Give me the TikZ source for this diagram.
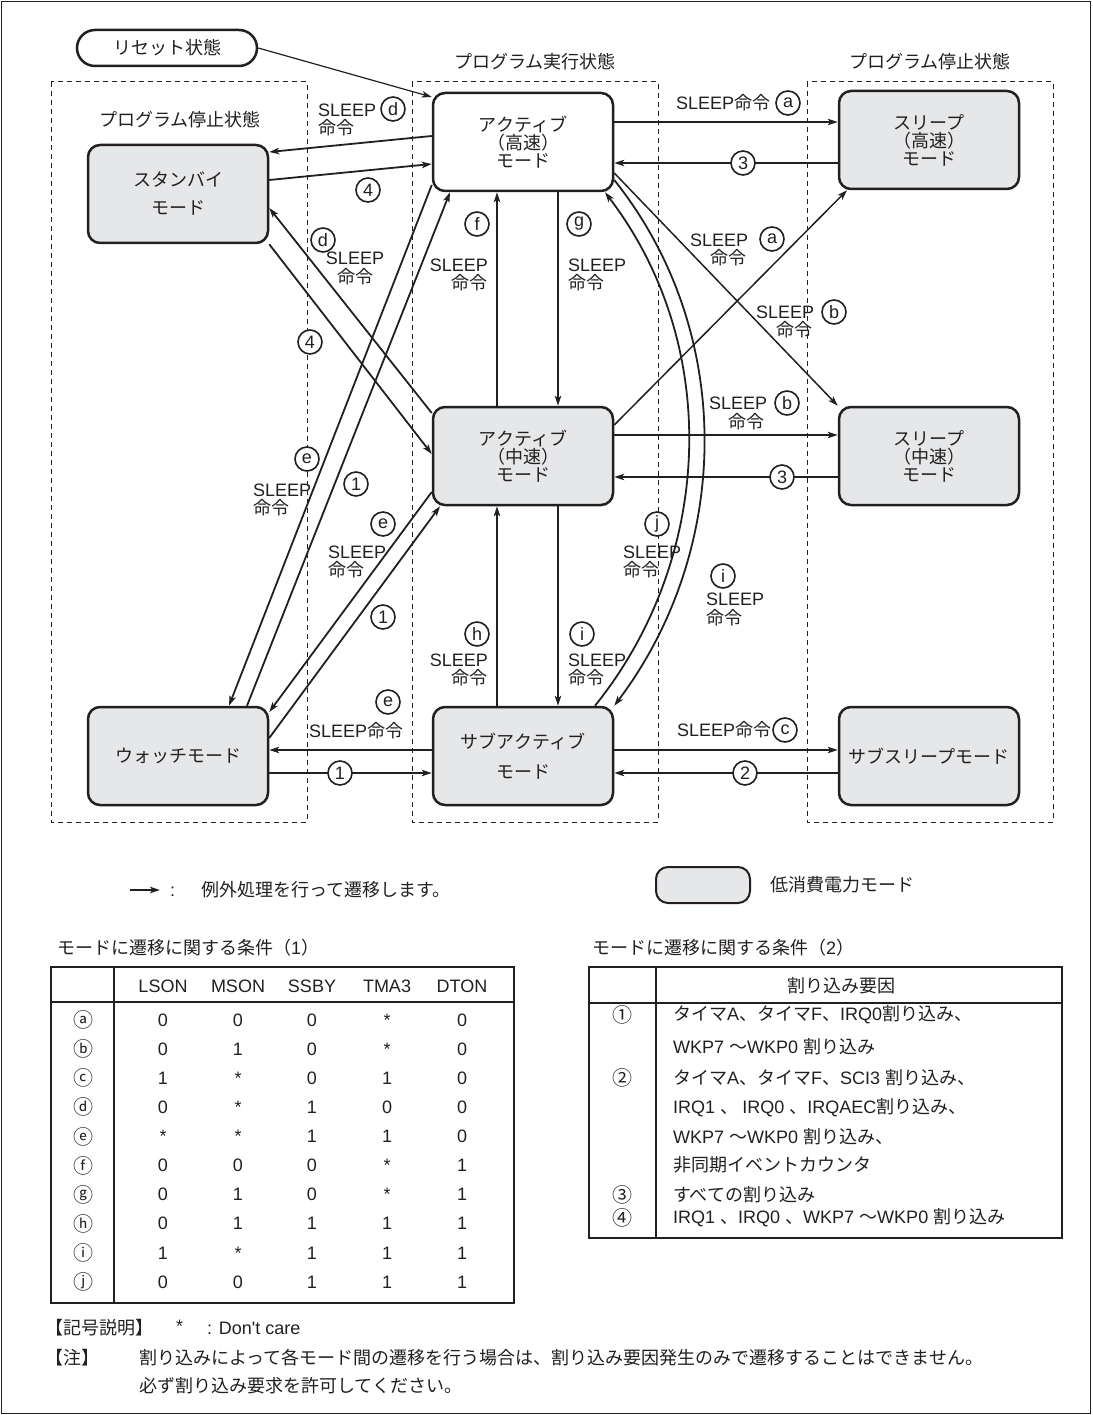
\documentclass[tikz,border=0pt]{standalone}
\usepackage{fontspec}
\setmainfont{Noto Sans CJK JP}
\newfontfamily\lat{Liberation Sans}
\usetikzlibrary{arrows.meta}
\definecolor{ink}{HTML}{231F20}
\definecolor{lowp}{HTML}{E6E7E8}
\newcommand\fs[2]{\fontsize{#1pt}{#2pt}\selectfont}
\newcommand\SL{{\lat SLEEP}}
\begin{document}
\begin{tikzpicture}[x=1pt,y=-1pt,
  mode/.style={draw=ink,line width=2.5pt,rounded corners=12pt,minimum width=180pt,minimum height=98pt,inner sep=0pt,align=center,font=\fs{18}{18},fill=lowp,text=ink},
  wmode/.style={mode,fill=white},
  conn/.style={draw=ink,line width=1.8pt,-{Stealth[length=10pt,width=6.5pt,inset=2.5pt]}},
  thin conn/.style={conn,line width=1.2pt},
  grp/.style={draw=ink,line width=1pt,dash pattern=on 5pt off 4pt},
  circ/.style={circle,draw=ink,line width=1.6pt,minimum size=24pt,inner sep=0pt,font=\lat\fs{18}{18},fill=white,text=ink},
  lbl/.style={inner sep=0pt,font=\fs{18}{18},text=ink},
  tbl/.style={inner sep=0pt,font=\lat\fs{18}{18},text=ink},
  tl/.style={draw=ink,line width=1.2pt},
]
\useasboundingbox (0,0) rectangle (1092,1415);
\draw[ink,line width=1pt] (1.5,1.5) rectangle (1090.5,1413.5);

% groups
\draw[grp] (51,82) rectangle (307,822);
\draw[grp] (412,82) rectangle (658,822);
\draw[grp] (807,82) rectangle (1053,822);
\node[lbl] (g1) at (180,120) {プログラム停止状態};
\node[lbl] (g2) at (535,62) {プログラム実行状態};
\node[lbl] (g3) at (930,62) {プログラム停止状態};

% modes
\node[wmode,minimum height=36pt,rounded corners=18pt] (reset) at (167,48) {リセット状態};
\node[mode,font=\fs{18}{28}] (standby) at (178,194) {スタンバイ\\モード};
\node[wmode] (acth) at (523,142) {アクティブ\\（高速）\\モード};
\node[mode] (sleeph) at (929,140) {スリープ\\（高速）\\モード};
\node[mode] (actm) at (523,456) {アクティブ\\（中速）\\モード};
\node[mode] (sleepm) at (929,456) {スリープ\\（中速）\\モード};
\node[mode] (watch) at (178,756) {ウォッチモード};
\node[mode,font=\fs{18}{30}] (sub) at (523,756) {サブアクティブ\\モード};
\node[mode] (subsleep) at (929,756) {サブスリープモード};

% connectors
\draw[thin conn] (reset.east) -- (acth.west |- 0,97);
\draw[conn] (acth.west |- 0,136) -- (standby.east |- 0,152);
\draw[conn] (standby.east |- 0,180) -- (acth.west |- 0,164);
\draw[conn] (actm.west |- 0,413) -- (standby.east |- 0,208);
\draw[conn] (standby.south east) -- (actm.west |- 0,454);
\draw[conn] (acth.west |- 0,185) -- (watch.north -| 229,0);
\draw[conn] (watch.north -| 247,0) -- (acth.south -| 450,0);
\draw[conn] (actm.west |- 0,492) -- (watch.east |- 0,712);
\draw[conn] (watch.east |- 0,738) -- (actm.south -| 440,0);

\draw[conn] (acth.east |- 0,122) -- (sleeph.west |- 0,122);
\draw[conn] (sleeph.west |- 0,163) -- (acth.east |- 0,163);
\draw[conn,line width=1.5pt] (acth.east |- 0,173) -- (sleepm.north west);
\draw[conn,line width=1.5pt] (actm.east |- 0,425) -- (sleeph.south -| 847,0);
\draw[conn] (actm.east |- 0,435) -- (sleepm.west |- 0,435);
\draw[conn] (sleepm.west |- 0,477) -- (actm.east |- 0,477);

\draw[conn] (actm.north -| 497,0) -- (acth.south -| 497,0);
\draw[conn] (acth.south -| 558,0) -- (actm.north -| 558,0);
\draw[conn] (sub.north -| 497,0) -- (actm.south -| 497,0);
\draw[conn] (actm.south -| 558,0) -- (sub.north -| 558,0);

\draw[conn] (sub.north -| 595,0) .. controls (713,559) and (723,347) .. (acth.south -| 605,0);
\draw[conn] (acth.east |- 0,180) .. controls (737,334) and (731,551) .. (sub.north east);

\draw[conn] (sub.west |- 0,750) -- (watch.east |- 0,750);
\draw[conn] (watch.east |- 0,773) -- (sub.west |- 0,773);
\draw[conn] (sub.east |- 0,750) -- (subsleep.west |- 0,750);
\draw[conn] (subsleep.west |- 0,773) -- (sub.east |- 0,773);

% labels
\node[lbl,anchor=west] (l1a) at (318,110) {\SL};
\node[circ] (l1c) at (393,109) {d};
\node[lbl,anchor=west] (l1b) at (318,128) {命令};
\node[circ] (l2c) at (368,190) {4};
\node[circ] (l3c) at (323,240) {d};
\node[lbl] (l3a) at (355,258) {\SL};
\node[lbl] (l3b) at (355,277) {命令};
\node[circ] (l4c) at (310,342) {4};
\node[circ] (l5c) at (307,459) {e};
\node[lbl,anchor=west] (l5a) at (253,490) {\SL};
\node[lbl,anchor=west] (l5b) at (253,508) {命令};
\node[circ] (l6c) at (356,484) {1};
\node[circ] (l7c) at (383,524) {e};
\node[lbl,anchor=west] (l7a) at (328,552) {\SL};
\node[lbl,anchor=west] (l7b) at (328,570) {命令};
\node[circ] (l8c) at (383,617) {1};

\node[lbl,anchor=west] (l9a) at (676,103) {\SL 命令};
\node[circ] (l9c) at (788,103) {a};
\node[circ] (l10c) at (743,163) {3};
\node[lbl,anchor=west] (l11a) at (756,312) {\SL};
\node[circ] (l11c) at (834,312) {b};
\node[lbl,anchor=east] (l11b) at (813,330) {命令};
\node[lbl,anchor=west] (l12a) at (690,240) {\SL};
\node[circ] (l12c) at (772,239) {a};
\node[lbl,anchor=east] (l12b) at (747,258) {命令};
\node[lbl,anchor=west] (l13a) at (709,403) {\SL};
\node[circ] (l13c) at (787,403) {b};
\node[lbl,anchor=east] (l13b) at (765,422) {命令};
\node[circ] (l14c) at (782,477) {3};

\node[circ] (l15c) at (477,224) {f};
\node[lbl,anchor=east] (l15a) at (488,265) {\SL};
\node[lbl,anchor=east] (l15b) at (488,283) {命令};
\node[circ] (l16c) at (579,224) {g};
\node[lbl,anchor=west] (l16a) at (568,265) {\SL};
\node[lbl,anchor=west] (l16b) at (568,283) {命令};
\node[circ] (l17c) at (477,634) {h};
\node[lbl,anchor=east] (l17a) at (488,660) {\SL};
\node[lbl,anchor=east] (l17b) at (488,678) {命令};
\node[circ] (l18c) at (582,634) {i};
\node[lbl,anchor=west] (l18a) at (568,660) {\SL};
\node[lbl,anchor=west] (l18b) at (568,678) {命令};
\node[circ] (l19c) at (657,524) {j};
\node[lbl,anchor=west] (l19a) at (623,552) {\SL};
\node[lbl,anchor=west] (l19b) at (623,570) {命令};
\node[circ] (l20c) at (723,576) {i};
\node[lbl,anchor=west] (l20a) at (706,599) {\SL};
\node[lbl,anchor=west] (l20b) at (706,618) {命令};

\node[circ] (l21c) at (388,702) {e};
\node[lbl,anchor=west] (l21a) at (309,731) {\SL 命令};
\node[circ] (l22c) at (340,773) {1};
\node[lbl,anchor=west] (l23a) at (677,730) {\SL 命令};
\node[circ] (l23c) at (785,730) {c};
\node[circ] (l24c) at (745,773) {2};

% legend
\coordinate (la) at (130,890);
\coordinate (lb) at (160,890);
\draw[conn] (la) -- (lb);
\node[lbl,anchor=west] (lt) at (170,890) {{\lat :}\hspace{26pt}例外処理を行って遷移します。};
\node[mode,minimum width=94pt,minimum height=36pt,line width=2pt] (lp) at (703,885) {};
\node[lbl,anchor=west] (lpt) at (770,885) {低消費電力モード};

% titles
\node[lbl,anchor=west] (t1) at (57,948) {モードに遷移に関する条件（{\lat 1}）};
\node[lbl,anchor=west] (t2) at (592,948) {モードに遷移に関する条件（{\lat 2}）};

% table 1
\draw[tl] (51,967) rectangle (514,1303);
\draw[tl] (114,967) -- (114,1303);
\draw[tl] (51,1002) -- (514,1002);
\node[tbl] (h1) at (163,986) {LSON};
\node[tbl] (h2) at (238,986) {MSON};
\node[tbl] (h3) at (312,986) {SSBY};
\node[tbl] (h4) at (387,986) {TMA3};
\node[tbl] (h5) at (462,986) {DTON};
\foreach \cc/\va/\vb/\vc/\vd/\ve [count=\i from 0] in
  {ⓐ/0/0/0/*/0, ⓑ/0/1/0/*/0, ⓒ/1/*/0/1/0, ⓓ/0/*/1/0/0, ⓔ/*/*/1/1/0,
   ⓕ/0/0/0/*/1, ⓖ/0/1/0/*/1, ⓗ/0/1/1/1/1, ⓘ/1/*/1/1/1, ⓙ/0/0/1/1/1}{
  \pgfmathsetmacro\yy{1020+29.1*\i}
  \node[lbl,font=\fs{20}{20}] (r\i c0) at (83,\yy) {\cc};
  \node[tbl] (r\i c1) at (163,\yy) {\va};
  \node[tbl] (r\i c2) at (238,\yy) {\vb};
  \node[tbl] (r\i c3) at (312,\yy) {\vc};
  \node[tbl] (r\i c4) at (387,\yy) {\vd};
  \node[tbl] (r\i c5) at (462,\yy) {\ve};
}

% table 2
\draw[tl] (589,967) rectangle (1062,1238);
\draw[tl] (656,967) -- (656,1238);
\draw[tl] (589,1003) -- (1062,1003);
\node[lbl] (k0) at (841,986) {割り込み要因};
\node[lbl,font=\fs{20}{20}] (k1) at (622,1015) {①};
\node[lbl,font=\fs{20}{20}] (k2) at (622,1078) {②};
\node[lbl,font=\fs{20}{20}] (k3) at (622,1195) {③};
\node[lbl,font=\fs{20}{20}] (k4) at (622,1218) {④};
\node[lbl,anchor=west] (m1) at (673,1015) {タイマ{\lat A}、タイマ{\lat F}、{\lat IRQ0}割り込み、};
\node[lbl,anchor=west] (m2) at (673,1047) {{\lat WKP7 }～{\lat WKP0 }割り込み};
\node[lbl,anchor=west] (m3) at (673,1078) {タイマ{\lat A}、タイマ{\lat F}、{\lat SCI3 }割り込み、};
\node[lbl,anchor=west] (m4) at (673,1108) {{\lat IRQ1 }、 {\lat IRQ0 }、{\lat IRQAEC}割り込み、};
\node[lbl,anchor=west] (m5) at (673,1137) {{\lat WKP7 }～{\lat WKP0 }割り込み、};
\node[lbl,anchor=west] (m6) at (673,1165) {非同期イベントカウンタ};
\node[lbl,anchor=west] (m7) at (673,1195) {すべての割り込み};
\node[lbl,anchor=west] (m8) at (673,1218) {{\lat IRQ1 }、{\lat IRQ0 }、{\lat WKP7 }～{\lat WKP0 }割り込み};

% notes
\node[lbl,anchor=west] (n1) at (45,1328) {【記号説明】};
\node[lbl,anchor=west] (n1b) at (176,1326) {\lat *};
\node[lbl,anchor=west] (n1c) at (207,1328) {\lat : Don't care};
\node[lbl,anchor=west] (n2) at (45,1358) {【注】};
\node[lbl,anchor=west] (n2b) at (139,1358) {割り込みによって各モード間の遷移を行う場合は、割り込み要因発生のみで遷移することはできません。};
\node[lbl,anchor=west] (n2c) at (139,1386) {必ず割り込み要求を許可してください。};
\end{tikzpicture}
\end{document}
